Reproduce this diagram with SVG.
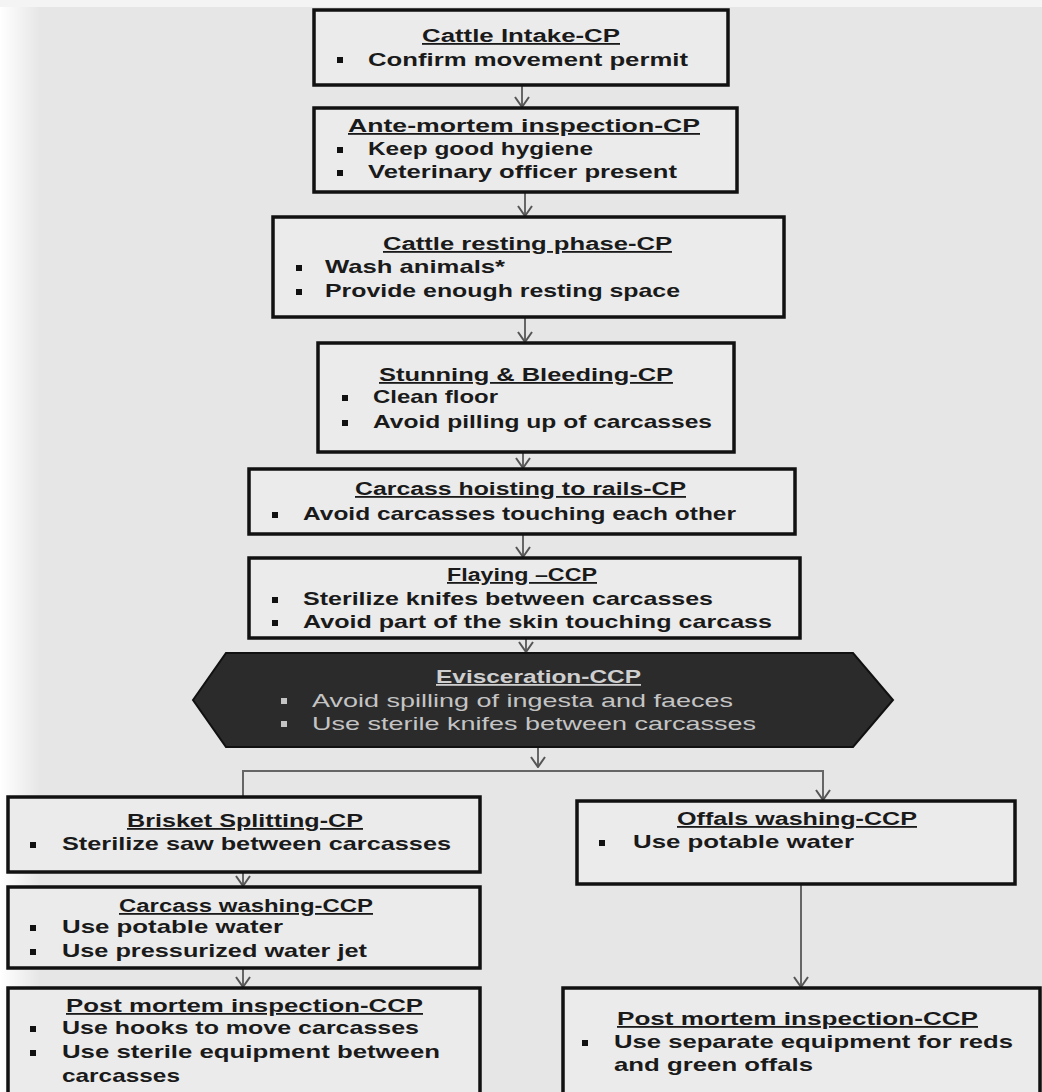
<svg xmlns="http://www.w3.org/2000/svg" width="1042" height="1092" viewBox="0 0 1042 1092">
<defs>
<linearGradient id="bgL" x1="0" y1="0" x2="1" y2="0">
<stop offset="0" stop-color="#ffffff"/>
<stop offset="1" stop-color="#ffffff" stop-opacity="0"/>
</linearGradient>
<marker id="arr" markerUnits="userSpaceOnUse" markerWidth="12" markerHeight="16" viewBox="0 0 12 16" refX="11" refY="8" orient="auto">
<path d="M1,1 L11,8 L1,15" fill="none" stroke="#555" stroke-width="2"/>
</marker>
<style>
.box{fill:#ebebeb;stroke:#111;stroke-width:3.5}
.hex{fill:#2b2b2b;stroke:#111;stroke-width:2}
.t{font-family:"Liberation Sans",Arial,sans-serif;font-weight:bold;font-size:18px;fill:#1a1a1a;text-decoration:underline}
.b{font-family:"Liberation Sans",Arial,sans-serif;font-weight:bold;font-size:19px;fill:#1a1a1a}
.th{font-family:"Liberation Sans",Arial,sans-serif;font-weight:bold;font-size:18px;fill:#cfcfcf;text-decoration:underline}
.bh{font-family:"Liberation Sans",Arial,sans-serif;font-size:19px;fill:#c4c4c4}
.dot{fill:#111}
.doth{fill:#c4c4c4}
.c{fill:none;stroke:#666;stroke-width:2}
</style>
</defs>
<rect x="0" y="0" width="1042" height="1092" fill="#e6e6e6"/>
<rect x="0" y="0" width="40" height="1092" fill="url(#bgL)"/>
<rect x="0" y="0" width="1042" height="7" fill="#f4f4f4"/>

<g id="connectors">
<line class="c" x1="522" y1="85" x2="522" y2="107" marker-end="url(#arr)"/>
<line class="c" x1="525" y1="192" x2="525" y2="216" marker-end="url(#arr)"/>
<line class="c" x1="525" y1="317" x2="525" y2="342" marker-end="url(#arr)"/>
<line class="c" x1="523" y1="452" x2="523" y2="468" marker-end="url(#arr)"/>
<line class="c" x1="523" y1="535" x2="523" y2="557" marker-end="url(#arr)"/>
<line class="c" x1="526" y1="638" x2="526" y2="652" marker-end="url(#arr)"/>
<line class="c" x1="538" y1="748" x2="538" y2="767" marker-end="url(#arr)"/>
<polyline class="c" points="243,796 243,771 823,771 823,800" marker-end="url(#arr)"/>
<line class="c" x1="243" y1="873" x2="243" y2="886" marker-end="url(#arr)"/>
<line class="c" x1="243" y1="969" x2="243" y2="987" marker-end="url(#arr)"/>
<line class="c" x1="801" y1="885" x2="801" y2="987" marker-end="url(#arr)"/>
</g>

<g id="n1">
<rect class="box" x="314" y="10" width="414" height="75"/>
<text class="t" x="422" y="42" textLength="198" lengthAdjust="spacingAndGlyphs">Cattle Intake-CP</text>
<rect class="dot" x="337" y="57" width="6" height="6"/>
<text class="b" x="368" y="66" textLength="320" lengthAdjust="spacingAndGlyphs">Confirm movement  permit</text>
</g>

<g id="n2">
<rect class="box" x="314" y="108" width="423" height="84"/>
<text class="t" x="348" y="132" textLength="352" lengthAdjust="spacingAndGlyphs">Ante-mortem inspection-CP</text>
<rect class="dot" x="337" y="147" width="6" height="6"/>
<text class="b" x="368" y="155" textLength="225" lengthAdjust="spacingAndGlyphs">Keep good hygiene</text>
<rect class="dot" x="337" y="170" width="6" height="6"/>
<text class="b" x="368" y="178" textLength="309" lengthAdjust="spacingAndGlyphs">Veterinary officer present</text>
</g>

<g id="n3">
<rect class="box" x="273" y="217" width="511" height="100"/>
<text class="t" x="383" y="250" textLength="289" lengthAdjust="spacingAndGlyphs">Cattle resting phase-CP</text>
<rect class="dot" x="296" y="265" width="6" height="6"/>
<text class="b" x="325" y="273" textLength="180" lengthAdjust="spacingAndGlyphs">Wash animals*</text>
<rect class="dot" x="296" y="289" width="6" height="6"/>
<text class="b" x="325" y="297" textLength="355" lengthAdjust="spacingAndGlyphs">Provide  enough resting space</text>
</g>

<g id="n4">
<rect class="box" x="318" y="343" width="416" height="109"/>
<text class="t" x="379" y="381" textLength="294" lengthAdjust="spacingAndGlyphs">Stunning &amp; Bleeding-CP</text>
<rect class="dot" x="342" y="395" width="6" height="6"/>
<text class="b" x="373" y="403" textLength="125" lengthAdjust="spacingAndGlyphs">Clean floor</text>
<rect class="dot" x="342" y="420" width="6" height="6"/>
<text class="b" x="373" y="428" textLength="339" lengthAdjust="spacingAndGlyphs">Avoid pilling up of carcasses</text>
</g>

<g id="n5">
<rect class="box" x="249" y="469" width="546" height="65"/>
<text class="t" x="355" y="495" textLength="331" lengthAdjust="spacingAndGlyphs">Carcass hoisting to rails-CP</text>
<rect class="dot" x="272" y="512" width="6" height="6"/>
<text class="b" x="303" y="520" textLength="433" lengthAdjust="spacingAndGlyphs">Avoid carcasses touching each other</text>
</g>

<g id="n6">
<rect class="box" x="249" y="558" width="551" height="80"/>
<text class="t" x="447" y="581" textLength="150" lengthAdjust="spacingAndGlyphs">Flaying –CCP</text>
<rect class="dot" x="272" y="597" width="6" height="6"/>
<text class="b" x="303" y="605" textLength="410" lengthAdjust="spacingAndGlyphs">Sterilize knifes between carcasses</text>
<rect class="dot" x="272" y="620" width="6" height="6"/>
<text class="b" x="303" y="628" textLength="469" lengthAdjust="spacingAndGlyphs">Avoid part of the skin touching  carcass</text>
</g>

<g id="n7">
<polygon class="hex" points="193,700 226,653 853,653 893,700 853,747 226,747"/>
<text class="th" x="436" y="683" textLength="205" lengthAdjust="spacingAndGlyphs">Evisceration-CCP</text>
<rect class="doth" x="281" y="698" width="6" height="6"/>
<text class="bh" x="312" y="707" textLength="421" lengthAdjust="spacingAndGlyphs">Avoid  spilling of ingesta and faeces</text>
<rect class="doth" x="281" y="721" width="6" height="6"/>
<text class="bh" x="312" y="730" textLength="444" lengthAdjust="spacingAndGlyphs">Use sterile knifes between  carcasses</text>
</g>

<g id="n8">
<rect class="box" x="8" y="797" width="472" height="75"/>
<text class="t" x="127" y="827" textLength="236" lengthAdjust="spacingAndGlyphs">Brisket Splitting-CP</text>
<rect class="dot" x="30" y="842" width="6" height="6"/>
<text class="b" x="62" y="850" textLength="389" lengthAdjust="spacingAndGlyphs">Sterilize  saw between  carcasses</text>
</g>

<g id="n9">
<rect class="box" x="8" y="887" width="472" height="81"/>
<text class="t" x="119" y="912" textLength="254" lengthAdjust="spacingAndGlyphs">Carcass washing-CCP</text>
<rect class="dot" x="30" y="925" width="6" height="6"/>
<text class="b" x="62" y="933" textLength="221" lengthAdjust="spacingAndGlyphs">Use potable  water</text>
<rect class="dot" x="30" y="949" width="6" height="6"/>
<text class="b" x="62" y="957" textLength="305" lengthAdjust="spacingAndGlyphs">Use pressurized water jet</text>
</g>

<g id="n10">
<rect class="box" x="8" y="988" width="472" height="112"/>
<text class="t" x="66" y="1012" textLength="357" lengthAdjust="spacingAndGlyphs">Post mortem inspection-CCP</text>
<rect class="dot" x="30" y="1026" width="6" height="6"/>
<text class="b" x="62" y="1034" textLength="357" lengthAdjust="spacingAndGlyphs">Use hooks to move  carcasses</text>
<rect class="dot" x="30" y="1050" width="6" height="6"/>
<text class="b" x="62" y="1058" textLength="378" lengthAdjust="spacingAndGlyphs">Use sterile equipment  between</text>
<text class="b" x="62" y="1082" textLength="118" lengthAdjust="spacingAndGlyphs">carcasses</text>
</g>

<g id="n11">
<rect class="box" x="577" y="801" width="438" height="83"/>
<text class="t" x="677" y="825" textLength="240" lengthAdjust="spacingAndGlyphs">Offals washing-CCP</text>
<rect class="dot" x="599" y="840" width="6" height="6"/>
<text class="b" x="633" y="848" textLength="221" lengthAdjust="spacingAndGlyphs">Use potable  water</text>
</g>

<g id="n12">
<rect class="box" x="563" y="988" width="477" height="112"/>
<text class="t" x="617" y="1025" textLength="361" lengthAdjust="spacingAndGlyphs">Post mortem inspection-CCP</text>
<rect class="dot" x="582" y="1040" width="6" height="6"/>
<text class="b" x="614" y="1048" textLength="399" lengthAdjust="spacingAndGlyphs">Use separate equipment  for reds</text>
<text class="b" x="614" y="1071" textLength="199" lengthAdjust="spacingAndGlyphs">and green offals</text>
</g>
</svg>
